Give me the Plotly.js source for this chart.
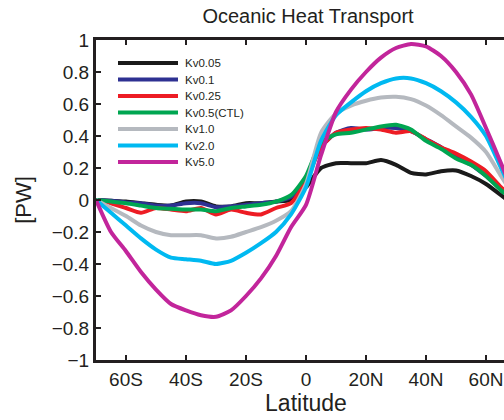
<!DOCTYPE html>
<html>
<head>
<meta charset="utf-8">
<script src="https://cdn.plot.ly/plotly-3.0.1.min.js"></script>
<style>
html,body{margin:0;padding:0;overflow:hidden;background:#fff;}
#chart{width:520px;height:420px;}
</style>
</head>
<body>
<div id="chart"></div>
<script>
const lat = [-70,-65,-60,-55,-50,-45,-40,-35,-30,-25,-20,-15,-10,-5,0,5,10,15,20,25,30,35,40,45,50,55,60,65,70];

const kv005 = [0,-0.005,-0.01,-0.02,-0.03,-0.035,-0.01,-0.01,-0.04,-0.04,-0.02,-0.02,-0.01,0.0,0.08,0.2,0.23,0.23,0.23,0.25,0.22,0.17,0.16,0.18,0.185,0.15,0.1,0.03,-0.04];
const kv01  = [0,-0.005,-0.015,-0.02,-0.035,-0.035,-0.02,-0.02,-0.045,-0.04,-0.03,-0.02,-0.01,0.02,0.14,0.33,0.42,0.45,0.44,0.45,0.45,0.43,0.38,0.33,0.27,0.22,0.15,0.07,0.0];
const kv025 = [0,-0.02,-0.05,-0.08,-0.05,-0.06,-0.07,-0.05,-0.09,-0.06,-0.08,-0.09,-0.05,-0.02,0.12,0.33,0.42,0.44,0.45,0.44,0.42,0.43,0.38,0.33,0.29,0.24,0.18,0.08,0.0];
const kv05  = [0,-0.01,-0.02,-0.035,-0.05,-0.055,-0.06,-0.06,-0.07,-0.05,-0.04,-0.03,-0.01,0.03,0.15,0.36,0.41,0.42,0.44,0.46,0.47,0.44,0.37,0.32,0.26,0.22,0.15,0.06,-0.01];
const kv10  = [0,-0.05,-0.1,-0.16,-0.2,-0.22,-0.22,-0.22,-0.24,-0.23,-0.2,-0.17,-0.13,-0.07,0.1,0.42,0.54,0.59,0.62,0.64,0.645,0.63,0.59,0.53,0.46,0.39,0.3,0.15,0.0];
const kv20  = [0,-0.08,-0.16,-0.24,-0.31,-0.36,-0.37,-0.38,-0.4,-0.38,-0.33,-0.27,-0.2,-0.09,0.08,0.37,0.53,0.61,0.68,0.73,0.76,0.76,0.73,0.68,0.61,0.52,0.4,0.2,0.0];
const kv50  = [0,-0.2,-0.32,-0.45,-0.56,-0.65,-0.69,-0.72,-0.73,-0.69,-0.6,-0.49,-0.35,-0.17,-0.03,0.28,0.55,0.69,0.8,0.89,0.95,0.975,0.96,0.9,0.8,0.66,0.45,0.23,0.0];

const seriesNames = ['Kv0.05','Kv0.1','Kv0.25','Kv0.5(CTL)','Kv1.0','Kv2.0','Kv5.0'];
const seriesColors = ['#1a1a1a','#2e3192','#ed1c24','#00a651','#b5b9bf','#00b9f1','#c2259b'];
const seriesValues = [kv005,kv01,kv025,kv05,kv10,kv20,kv50];

const xTickVals = [-60,-40,-20,0,20,40,60];
const xTickText = ['60S','40S','20S','0','20N','40N','60N'];

const traces = seriesValues.map((v,i)=>({
  x: lat, y: v, name: seriesNames[i], type:'scatter', mode:'lines',
  line:{color:seriesColors[i], width:4, shape:'spline', smoothing:0.6}
}));

// legend drawn as paper-space samples and labels
const plotL = 96, plotW = 420, plotT = 40, plotH = 320;
const legTop = 63, legStep = 16.5;
const shapes = [], annotations = [];
seriesNames.forEach((n,i)=>{
  const py = legTop + i*legStep;
  const yp = 1 - (py - plotT)/plotH;
  shapes.push({type:'line', xref:'paper', yref:'paper', x0:(118-plotL)/plotW, x1:(178-plotL)/plotW, y0:yp, y1:yp,
    line:{color:seriesColors[i], width:4}});
  annotations.push({xref:'paper', yref:'paper', x:(183-plotL)/plotW, y:yp, text:n, showarrow:false,
    xanchor:'left', yanchor:'middle', font:{size:11.5, color:'#231f20'}});
});

const font = 'Liberation Sans, Arial, Helvetica, sans-serif';
const layout = {
  width:520, height:420,
  margin:{l:96, r:4, t:40, b:60},
  paper_bgcolor:'#fff', plot_bgcolor:'#fff',
  font:{family:font, color:'#231f20'},
  title:{text:'Oceanic Heat Transport', font:{size:20, family:font, color:'#231f20'}, x:308/520, xanchor:'center', y:1-16/420, yanchor:'middle'},
  xaxis:{range:[-70,70], tickvals:xTickVals, ticktext:xTickText, ticks:'inside', ticklen:5, tickwidth:1.5, tickcolor:'#231f20',
    showline:true, linewidth:3, linecolor:'#231f20', mirror:'ticks', showgrid:false, zeroline:false,
    tickfont:{size:19}, title:{text:'Latitude', font:{size:23}, standoff:4}},
  yaxis:{range:[-1,1], dtick:0.2, tick0:0, ticks:'inside', ticklen:5, tickwidth:1.5, tickcolor:'#231f20',
    showline:true, linewidth:3, linecolor:'#231f20', mirror:'ticks', showgrid:false, zeroline:false,
    tickfont:{size:19}, title:{text:'[PW]', font:{size:22}, standoff:14}},
  showlegend:false,
  shapes:shapes,
  annotations:annotations
};
Plotly.newPlot('chart', traces, layout, {displayModeBar:false, staticPlot:true});
</script>
</body>
</html>
